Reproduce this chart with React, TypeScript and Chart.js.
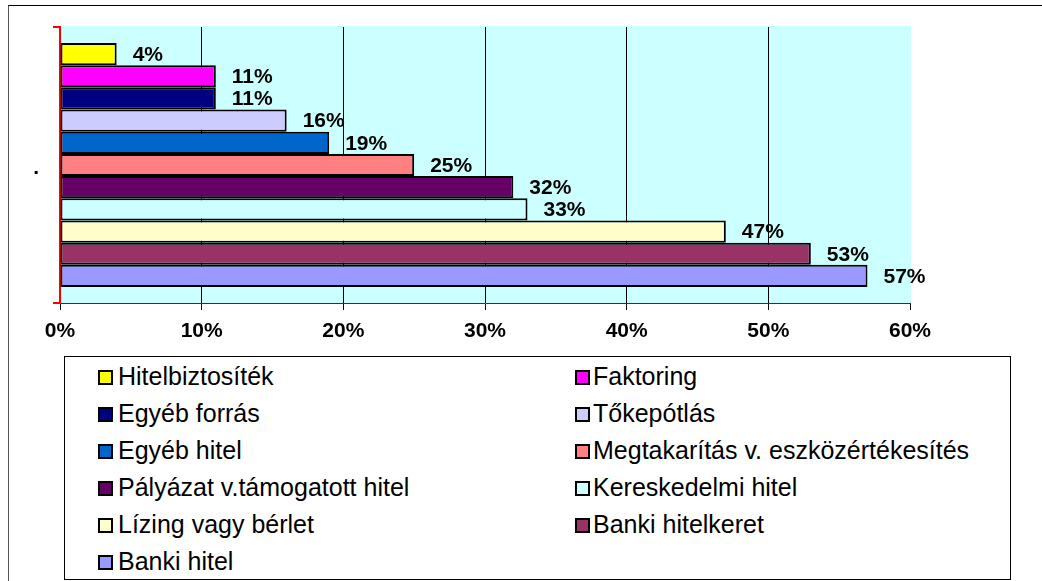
import React, { useEffect, useRef } from 'react';
import { Chart, registerables } from 'chart.js';

Chart.register(...registerables);

const categories = ['.'];
const seriesNames = [
  'Hitelbiztosíték',
  'Faktoring',
  'Egyéb forrás',
  'Tőkepótlás',
  'Egyéb hitel',
  'Megtakarítás v. eszközértékesítés',
  'Pályázat v.támogatott hitel',
  'Kereskedelmi hitel',
  'Lízing vagy bérlet',
  'Banki hitelkeret',
  'Banki hitel',
];
const seriesValues = [4, 11, 11, 16, 19, 25, 32, 33, 47, 53, 57];
const seriesColors = [
  '#FFFF00',
  '#FF00FF',
  '#000080',
  '#CCCCFF',
  '#0066CC',
  '#FF8080',
  '#660066',
  '#CCFFFF',
  '#FFFFCC',
  '#993366',
  '#9999FF',
];
const xTicks = [0, 10, 20, 30, 40, 50, 60];

const FONT = '"Liberation Sans", Arial, Helvetica, sans-serif';

const plotBg = {
  id: 'plotBg',
  beforeDraw(chart: any) {
    const { ctx, chartArea } = chart;
    ctx.save();
    ctx.fillStyle = '#CCFFFF';
    ctx.fillRect(chartArea.left, chartArea.top - 1, chartArea.right - chartArea.left + 1, chartArea.bottom - chartArea.top + 1);
    ctx.restore();
  },
};

const valueLabels = {
  id: 'valueLabels',
  afterDatasetsDraw(chart: any) {
    const ctx = chart.ctx;
    ctx.save();
    ctx.font = `bold 21px ${FONT}`;
    ctx.fillStyle = '#000';
    ctx.textBaseline = 'middle';
    ctx.textAlign = 'left';
    chart.data.datasets.forEach((ds: any, i: number) => {
      const meta = chart.getDatasetMeta(i);
      meta.data.forEach((el: any, j: number) => {
        ctx.fillText(ds.data[j] + '%', el.x + 16, el.y + 1);
      });
    });
    ctx.restore();
  },
};

export default function App() {
  const canvasRef = useRef<HTMLCanvasElement | null>(null);

  useEffect(() => {
    if (!canvasRef.current) return;
    const chart = new Chart(canvasRef.current, {
      type: 'bar',
      data: {
        labels: categories,
        datasets: seriesNames.map((name, i) => ({
          label: name,
          data: [seriesValues[i]],
          backgroundColor: seriesColors[i],
          borderColor: '#000',
          borderWidth: 2,
          borderSkipped: false,
          barPercentage: 1,
          categoryPercentage: 0.884,
        })),
      },
      options: {
        indexAxis: 'y',
        responsive: false,
        animation: false,
        devicePixelRatio: 1,
        layout: { padding: { top: 27, right: 132, bottom: 228, left: 0 } },
        plugins: {
          legend: { display: false },
          tooltip: { enabled: false },
        },
        scales: {
          x: {
            type: 'linear',
            min: 0,
            max: 60,
            afterBuildTicks: (s: any) => {
              s.ticks = xTicks.map((v) => ({ value: v }));
            },
            ticks: {
              callback: (v: any) => v + '%',
              font: { family: FONT, size: 21, weight: 'bold' },
              color: '#000',
              padding: 9,
              maxRotation: 0,
              autoSkip: false,
            },
            grid: {
              color: (ctx: any) =>
                ctx.tick && (ctx.tick.value === 0 || ctx.tick.value === 60) ? 'rgba(0,0,0,0)' : '#000',
              tickColor: '#000',
              tickLength: 7,
              lineWidth: 1,
            },
            border: { color: '#333', width: 1 },
            afterFit: (s: any) => {
              s.height = 50;
            },
          },
          y: {
            type: 'category',
            offset: true,
            z: 1,
            ticks: {
              font: { family: FONT, size: 21, weight: 'bold' },
              color: '#000',
              padding: 14,
              labelOffset: 3,
            },
            grid: {
              offset: true,
              drawOnChartArea: false,
              color: '#FF0000',
              tickColor: '#FF0000',
              tickLength: 7,
              lineWidth: 2,
            },
            border: { color: '#FF0000', width: 2 },
            afterFit: (s: any) => {
              s.width = 60;
            },
          },
        },
      } as any,
      plugins: [plotBg, valueLabels],
    });
    return () => chart.destroy();
  }, []);

  return (
    <div
      style={{
        position: 'fixed',
        left: 0,
        top: 0,
        width: 1042,
        height: 581,
        overflow: 'hidden',
        background: '#fff',
        fontFamily: FONT,
      }}
    >
      <div
        style={{
          position: 'absolute',
          left: 8,
          top: 5,
          width: 1100,
          height: 700,
          borderTop: '1px solid #000',
          borderLeft: '1px solid #555',
        }}
      />
      <canvas
        ref={canvasRef}
        width={1042}
        height={581}
        style={{ position: 'absolute', left: 0, top: 0, width: 1042, height: 581 }}
      />
      <div
        style={{
          position: 'absolute',
          left: 64,
          top: 356,
          width: 947,
          height: 224,
          border: '1px solid #000',
          boxSizing: 'border-box',
          background: '#fff',
        }}
      >
        {seriesNames.map((name, i) => {
          const col = i % 2;
          const row = Math.floor(i / 2);
          const swLeft = col === 0 ? 33 : 510;
          const txLeft = col === 0 ? 53 : 528;
          return (
            <React.Fragment key={name}>
              <div
                style={{
                  position: 'absolute',
                  left: swLeft,
                  top: 13 + row * 37,
                  width: 15,
                  height: 15,
                  boxSizing: 'border-box',
                  border: '2px solid #000',
                  background: seriesColors[i],
                }}
              />
              <div
                style={{
                  position: 'absolute',
                  left: txLeft,
                  top: 1 + row * 37,
                  height: 37,
                  lineHeight: '37px',
                  fontSize: 25,
                  color: '#000',
                  whiteSpace: 'nowrap',
                  fontFamily: FONT,
                }}
              >
                {name}
              </div>
            </React.Fragment>
          );
        })}
      </div>
    </div>
  );
}
